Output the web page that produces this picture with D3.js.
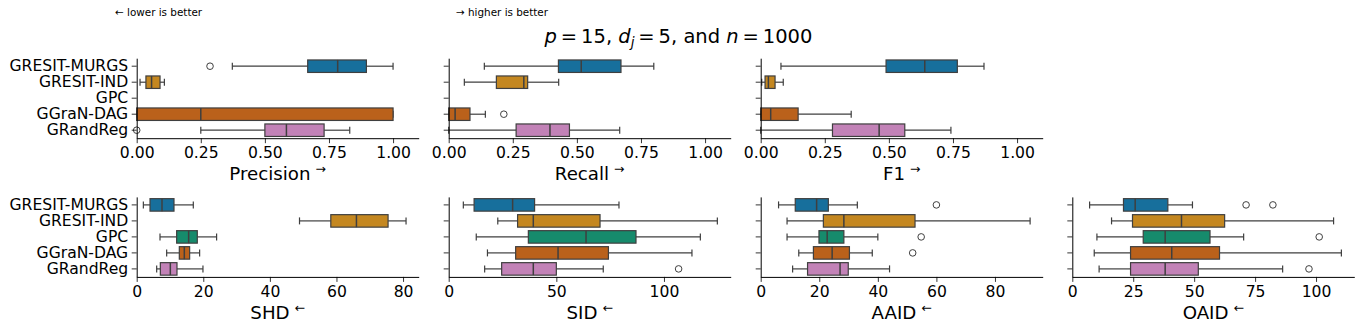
<!DOCTYPE html>
<html>
<head>
<meta charset="utf-8">
<script src="https://cdn.jsdelivr.net/npm/d3@7"></script>
<style>
  body { margin: 0; background: #fff; }
  text { font-family: "DejaVu Sans", sans-serif; fill: #000; }
</style>
</head>
<body>
<svg id="chart" width="1362" height="332"></svg>
<script>
 // methods and their (desaturated colorblind) colours
 const methods = ["GRESIT-MURGS", "GRESIT-IND", "GPC", "GGraN-DAG", "GRandReg"];
 const palette = ["#176f9c", "#c48720", "#168b6c", "#ba611b", "#c282b7"];

 // each row: [whisker low, q1, median, q3, whisker high, outliers]; null = nothing drawn
 const precision = [
   [0.373, 0.667, 0.784, 0.896, 1.0, [0.286]],
   [0.013, 0.036, 0.058, 0.091, 0.108, []],
   null,
   [0, 0, 0.25, 1.0, 1.0, []],
   [0.25, 0.5, 0.584, 0.731, 0.831, [0]]
 ];
 const recall = [
   [0.139, 0.428, 0.517, 0.672, 0.8, []],
   [0.061, 0.186, 0.293, 0.308, 0.429, []],
   null,
   [0, 0, 0.025, 0.083, 0.143, [0.215]],
   [0, 0.263, 0.395, 0.471, 0.667, []]
 ];
 const f1 = [
   [0.079, 0.489, 0.64, 0.767, 0.871, []],
   [0.004, 0.017, 0.03, 0.056, 0.088, []],
   null,
   [0, 0, 0.039, 0.146, 0.353, []],
   [0, 0.28, 0.462, 0.562, 0.742, []]
 ];
 const shd = [
   [2, 4, 7.6, 11.2, 17, []],
   [48.9, 58.3, 66, 75.5, 80.9, []],
   [7, 12, 15.6, 18.2, 24, []],
   [9, 12.8, 14.3, 15.9, 18.9, []],
   [6, 7.1, 10.1, 12.1, 19.9, []]
 ];
 const sid = [
   [6.8, 11.8, 29.7, 39.9, 79.1, []],
   [22.8, 32, 39.3, 70.3, 124.8, []],
   [12.8, 37, 63.8, 87, 116.9, []],
   [18, 31.1, 50.8, 74.2, 113, []],
   [16.7, 24.6, 39.3, 50, 71.8, [106.8]]
 ];
 const aaid = [
   [6.1, 11.8, 19.1, 23.1, 33, [60]],
   [9, 21.4, 28.4, 52.7, 92, []],
   [9, 19.9, 22.7, 28.4, 40, [54.8]],
   [13, 18, 24.4, 30.3, 38.1, [51.9]],
   [10.9, 16, 27.1, 29.9, 44, []]
 ];
 const oaid = [
   [7.1, 21, 25.8, 39.2, 49.3, [71.3, 82.3]],
   [16.1, 24.7, 44.8, 62.5, 107.2, []],
   [10.1, 29.1, 38.1, 56.5, 70.3, [101.3]],
   [9, 23.9, 40.8, 60.4, 110.4, []],
   [11, 23.9, 38.1, 51.7, 86.3, [97.1]]
 ];

 const unitTicks = [0, 0.25, 0.5, 0.75, 1.0];

 // panel layout
 const panels = [
   { label: "Precision", arrow: "\u2192", data: precision, xmax: 1.1, ticks: unitTicks, fmt: d3.format(".2f"), col: 0, row: 0 },
   { label: "Recall", arrow: "\u2192", data: recall, xmax: 1.1, ticks: unitTicks, fmt: d3.format(".2f"), col: 1, row: 0 },
   { label: "F1", arrow: "\u2192", data: f1, xmax: 1.1, ticks: unitTicks, fmt: d3.format(".2f"), col: 2, row: 0 },
   { label: "SHD", arrow: "\u2190", data: shd, xmax: 84.7, ticks: [0, 20, 40, 60, 80], fmt: d3.format("d"), col: 0, row: 1 },
   { label: "SID", arrow: "\u2190", data: sid, xmax: 131, ticks: [0, 50, 100], fmt: d3.format("d"), col: 1, row: 1 },
   { label: "AAID", arrow: "\u2190", data: aaid, xmax: 96.3, ticks: [0, 20, 40, 60, 80], fmt: d3.format("d"), col: 2, row: 1 },
   { label: "OAID", arrow: "\u2190", data: oaid, xmax: 115.7, ticks: [0, 25, 50, 75, 100], fmt: d3.format("d"), col: 3, row: 1 }
 ];

 const colLeft = [136.7, 448.7, 760.7, 1072.3];
 const rowTop = [58.2, 196.9];
 const W = 282, H = 80;
 const edge = "#3f3f3f";

 const svg = d3.select("#chart");

 // header notes
 svg.append("text").attr("x", 115).attr("y", 16).style("font-size", "10.4px").text("\u2190 lower is better");
 svg.append("text").attr("x", 456).attr("y", 16).style("font-size", "10.4px").text("\u2192 higher is better");

 // title, mathtext style
 const title = svg.append("text").attr("x", 678.5).attr("y", 43)
   .attr("text-anchor", "middle").style("font-size", "19.5px");
 title.append("tspan").style("font-style", "italic").text("p");
 title.append("tspan").text("\u2009=\u200915, ");
 title.append("tspan").style("font-style", "italic").text("d");
 title.append("tspan").style("font-style", "italic").style("font-size", "13.5px").attr("dy", 4).text("j");
 title.append("tspan").attr("dy", -4).text("\u2009=\u20095, and ");
 title.append("tspan").style("font-style", "italic").text("n");
 title.append("tspan").text("\u2009=\u20091000");

 panels.forEach(p => {
   const g = svg.append("g")
     .attr("transform", `translate(${colLeft[p.col]},${rowTop[p.row]})`);

   const x = d3.scaleLinear().domain([0, p.xmax]).range([0, W]);
   const y = d3.scaleBand().domain(methods).range([0, H]);
   const bh = y.bandwidth() * 0.78;

   // boxes
   p.data.forEach((d, i) => {
     if (!d) return;
     const [lo, q1, med, q3, hi, out] = d;
     const yc = y(methods[i]) + y.bandwidth() / 2;
     const b = g.append("g");
     b.append("line").attr("x1", x(lo)).attr("x2", x(q1)).attr("y1", yc).attr("y2", yc)
       .attr("stroke", edge).attr("stroke-width", 1.2);
     b.append("line").attr("x1", x(q3)).attr("x2", x(hi)).attr("y1", yc).attr("y2", yc)
       .attr("stroke", edge).attr("stroke-width", 1.2);
     [lo, hi].forEach(v => {
       b.append("line").attr("x1", x(v)).attr("x2", x(v)).attr("y1", yc - 3.5).attr("y2", yc + 3.5)
         .attr("stroke", edge).attr("stroke-width", 1.2);
     });
     b.append("rect").attr("x", x(q1)).attr("y", yc - bh / 2)
       .attr("width", x(q3) - x(q1)).attr("height", bh)
       .attr("fill", palette[i]).attr("stroke", edge).attr("stroke-width", 1.2);
     b.append("line").attr("x1", x(med)).attr("x2", x(med)).attr("y1", yc - bh / 2).attr("y2", yc + bh / 2)
       .attr("stroke", edge).attr("stroke-width", 1.5);
     b.selectAll("circle").data(out).enter().append("circle")
       .attr("cx", v => x(v)).attr("cy", yc).attr("r", 3.3)
       .attr("fill", "none").attr("stroke", edge).attr("stroke-width", 1);
   });

   // x axis
   const xa = g.append("g").attr("transform", `translate(0,${H})`)
     .call(d3.axisBottom(x).tickValues(p.ticks).tickFormat(p.fmt).tickSize(5).tickSizeOuter(0).tickPadding(4));
   xa.select(".domain").attr("stroke", "#000").attr("stroke-width", 1);
   xa.selectAll(".tick line").attr("stroke", "#000").attr("stroke-width", 0.8);
   xa.selectAll(".tick text").style("font-size", "15.6px").attr("font-family", null);

   // y axis
   const ya = g.append("g")
     .call(d3.axisLeft(y).tickSize(5).tickSizeOuter(0).tickPadding(3.5)
       .tickFormat(p.col === 0 ? (d => d) : ""));
   ya.select(".domain").attr("stroke", "#000").attr("stroke-width", 1);
   ya.selectAll(".tick line").attr("stroke", "#000").attr("stroke-width", 0.8);
   ya.selectAll(".tick text").style("font-size", "15.6px").attr("font-family", null);

   // axis title with arrow superscript
   const t = g.append("text").attr("x", W / 2).attr("y", H + 41.7)
     .attr("text-anchor", "middle").style("font-size", "18.2px");
   t.append("tspan").text(p.label);
   t.append("tspan").attr("dx", 5).attr("dy", -6.5).style("font-size", "12.5px").text(p.arrow);
 });
</script>
</body>
</html>
